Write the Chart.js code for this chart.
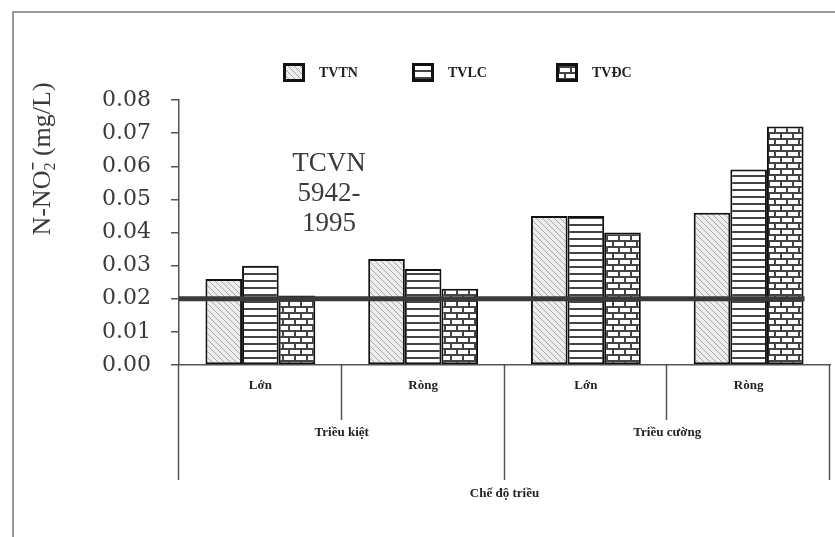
<!DOCTYPE html>
<html>
<head>
<meta charset="utf-8">
<script src="https://cdn.jsdelivr.net/npm/chart.js@4.4.1/dist/chart.umd.min.js"></script>
<style>
  body { margin: 0; background: #fff; }
  #wrap { position: relative; width: 835px; height: 537px; overflow: hidden; }
  #frame { position: absolute; left: 12px; top: 11px; width: 900px; height: 600px;
           border-left: 2px solid #9a9a9a; border-top: 2px solid #9a9a9a; }
  canvas { position: absolute; left: 0; top: 0; }
</style>
</head>
<body>
<div id="wrap">
  <div id="frame"></div>
  <canvas id="chart" width="835" height="537"></canvas>
</div>
<script>
// Categories (tide phase) and their groups (tide regime)
const categories = ['Lớn', 'Ròng', 'Lớn', 'Ròng'];
const groups = ['Triều kiệt', 'Triều cường'];
const perGroup = 2;

// N-NO2 values (mg/L) for each station
const seriesNames = ['TVTN', 'TVLC', 'TVĐC'];
const tvtn = [0.026, 0.032, 0.045, 0.046];
const tvlc = [0.030, 0.029, 0.045, 0.059];
const tvdc = [0.021, 0.023, 0.040, 0.072];

// Y axis ticks and the standard limit line
const yTicks = [0.00, 0.01, 0.02, 0.03, 0.04, 0.05, 0.06, 0.07, 0.08];
const limitValue = 0.02;
const limitLabel = ['TCVN', '5942-', '1995'];

const ctx = document.getElementById('chart').getContext('2d');

// Build the fill patterns used by the bars and the legend
function makePattern(kind) {
    const c = document.createElement('canvas');
    const g = c.getContext('2d');
    if (kind === 'diag') {
        c.width = 6; c.height = 6;
        g.fillStyle = '#ededed';
        g.fillRect(0, 0, 6, 6);
        g.strokeStyle = '#a9a9a9';
        g.lineWidth = 1;
        g.beginPath();
        g.moveTo(-1, -1); g.lineTo(7, 7);
        g.moveTo(-1, 5); g.lineTo(1, 7);
        g.moveTo(5, -1); g.lineTo(7, 1);
        g.stroke();
    } else if (kind === 'hstripe') {
        c.width = 8; c.height = 7;
        g.fillStyle = '#ffffff';
        g.fillRect(0, 0, 8, 7);
        g.fillStyle = '#444';
        g.fillRect(0, 0, 8, 2);
    } else {
        // brick
        c.width = 12; c.height = 12;
        g.fillStyle = '#ffffff';
        g.fillRect(0, 0, 12, 12);
        g.fillStyle = '#444';
        g.fillRect(0, 0, 12, 2);
        g.fillRect(0, 6, 12, 2);
        g.fillRect(0, 0, 2, 6);
        g.fillRect(6, 6, 2, 6);
    }
    return ctx.createPattern(c, 'repeat');
}

const fills = [makePattern('diag'), makePattern('hstripe'), makePattern('brick')];
const seriesValues = [tvtn, tvlc, tvdc];

const datasets = seriesNames.map((name, i) => ({
    label: name,
    data: seriesValues[i],
    backgroundColor: fills[i],
    borderColor: '#111',
    borderWidth: 2,
    borderSkipped: false,
    categoryPercentage: 0.675,
    barPercentage: 1.0
}));

// Extra drawing: limit line, separators, group labels, legend, axis title
const decor = {
    id: 'decor',
    afterDatasetsDraw(chart) {
        const { ctx, chartArea, scales } = chart;
        const y = scales.y.getPixelForValue(limitValue);
        const lastMeta = chart.getDatasetMeta(datasets.length - 1);
        const lastBar = lastMeta.data[lastMeta.data.length - 1];
        const xEnd = lastBar.x + lastBar.width / 2 + 1;
        ctx.save();
        ctx.strokeStyle = '#3a3a3a';
        ctx.lineWidth = 5;
        ctx.beginPath();
        ctx.moveTo(chartArea.left, y);
        ctx.lineTo(xEnd, y);
        ctx.stroke();

        // TCVN label
        ctx.fillStyle = '#3a3a3a';
        ctx.font = '27px "Liberation Serif", serif';
        ctx.textAlign = 'center';
        ctx.textBaseline = 'middle';
        limitLabel.forEach((t, i) => {
            ctx.fillText(t, chartArea.left + 150, chartArea.top + 64 + i * 30);
        });
        ctx.restore();
    },
    afterDraw(chart) {
        const { ctx, chartArea, scales } = chart;
        const x = scales.x;
        const step = x.width / categories.length;
        ctx.save();

        // separators below the axis
        ctx.strokeStyle = '#555';
        ctx.lineWidth = 1.5;
        for (let i = 0; i <= categories.length; i++) {
            const px = Math.round(x.left + i * step) - 0.5;
            const long = i % perGroup === 0;
            ctx.beginPath();
            ctx.moveTo(px, chartArea.bottom);
            ctx.lineTo(px, chartArea.bottom + (long ? 115 : 55));
            ctx.stroke();
        }

        // group labels
        ctx.fillStyle = '#222';
        ctx.font = 'bold 13px "Liberation Serif", serif';
        ctx.textAlign = 'center';
        ctx.textBaseline = 'middle';
        groups.forEach((g, i) => {
            const cx = x.left + (i * perGroup + perGroup / 2) * step;
            ctx.fillText(g, cx, chartArea.bottom + 68);
        });

        // legend
        const legendX = [283, 412, 556];
        ctx.font = 'bold 14px "Liberation Serif", serif';
        ctx.textAlign = 'left';
        seriesNames.forEach((name, i) => {
            const bx = legendX[i], by = 63;
            ctx.fillStyle = fills[i];
            ctx.fillRect(bx, by, 22, 19);
            ctx.strokeStyle = '#111';
            ctx.lineWidth = 3;
            ctx.strokeRect(bx + 1.5, by + 1.5, 19, 16);
            ctx.fillStyle = '#222';
            ctx.fillText(name, bx + 36, by + 10);
        });

        // y axis title with N-NO2(-) notation
        ctx.translate(41, 159);
        ctx.rotate(-Math.PI / 2);
        ctx.fillStyle = '#3a3a3a';
        const big = '26px "Liberation Serif", serif';
        const small = '16px "Liberation Serif", serif';
        ctx.font = big;
        const w1 = ctx.measureText('N-NO').width;
        const w3 = ctx.measureText(' (mg/L)').width;
        ctx.font = small;
        const w2 = ctx.measureText('2').width;
        const total = w1 + w2 + w3;
        let cx = -total / 2;
        ctx.textBaseline = 'alphabetic';
        ctx.font = big;
        ctx.fillText('N-NO', cx, 9);
        cx += w1;
        ctx.font = small;
        ctx.fillText('2', cx, 14);
        // superscript minus above the subscript
        ctx.fillRect(cx + 1, -9, w2 - 1, 1.5);
        cx += w2;
        ctx.font = big;
        ctx.fillText(' (mg/L)', cx, 9);
        ctx.restore();
    }
};

new Chart(ctx, {
    type: 'bar',
    data: { labels: categories, datasets: datasets },
    options: {
        responsive: false,
        animation: false,
        devicePixelRatio: 1,
        layout: { padding: { top: 100, right: 5, left: 0, bottom: 0 } },
        plugins: {
            legend: { display: false },
            tooltip: { enabled: false }
        },
        scales: {
            x: {
                afterFit: (scale) => { scale.height = 172; },
                grid: { display: false, drawTicks: false },
                border: { display: true, color: '#555', width: 1.5 },
                ticks: {
                    padding: 13,
                    color: '#222',
                    font: { family: '"Liberation Serif", serif', size: 13, weight: 'bold' }
                },
                title: {
                    display: true,
                    text: 'Chế độ triều',
                    color: '#222',
                    font: { family: '"Liberation Serif", serif', size: 13, weight: 'bold' },
                    padding: { top: 0, bottom: 36 }
                }
            },
            y: {
                min: yTicks[0],
                max: yTicks[yTicks.length - 1],
                afterFit: (scale) => { scale.width = 179; },
                afterBuildTicks: (scale) => { scale.ticks = yTicks.map(v => ({ value: v })); },
                grid: { drawOnChartArea: false, drawTicks: true, tickLength: 8, color: '#555', lineWidth: 1.5 },
                border: { display: true, color: '#555', width: 1.5 },
                ticks: {
                    padding: 20,
                    color: '#3a3a3a',
                    font: { family: '"DejaVu Serif", serif', size: 22 },
                    callback: (v) => Number(v).toFixed(2)
                }
            }
        }
    },
    plugins: [decor]
});
</script>
</body>
</html>
